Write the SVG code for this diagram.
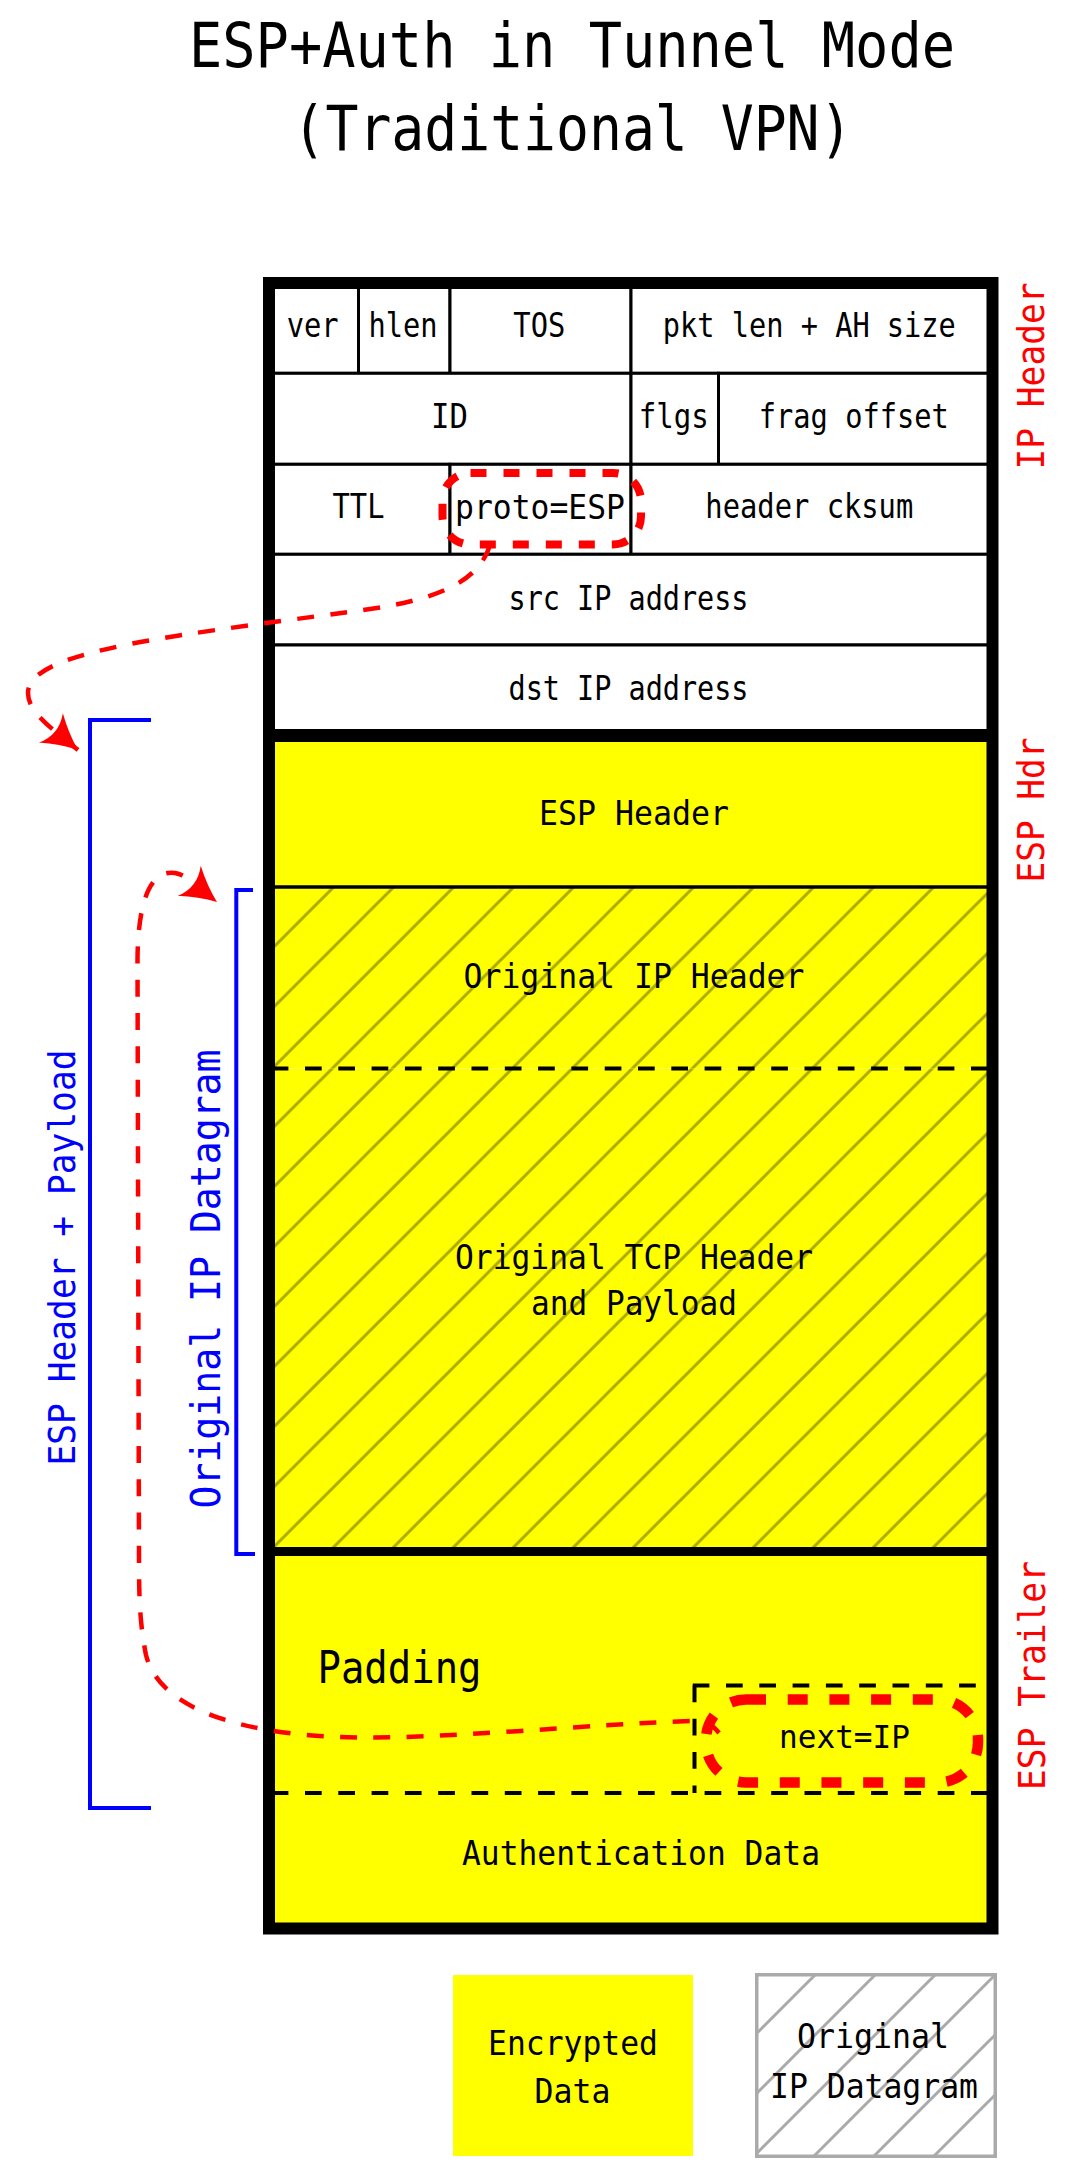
<svg xmlns="http://www.w3.org/2000/svg" width="1082" height="2177" viewBox="0 0 1082 2177">
<style>
text { font-family: "DejaVu Sans Mono", "Liberation Mono", monospace; fill: #000; }
.title { font-size: 62px; text-anchor: middle; }
.t { font-size: 33px; text-anchor: middle; }
.cell { fill: #fff; stroke: #000; stroke-width: 3; }
.yel { fill: #ff0; }
.sep { stroke: #000; fill: none; }
.dash { fill: none; stroke: #000; stroke-width: 4; stroke-dasharray: 16.7 16.6; }
.rlbl { fill: #f00; font-size: 38px; text-anchor: middle; }
.blbl { fill: #00f; text-anchor: middle; }
.bracket { fill: none; stroke: #00f; stroke-width: 4; }
.conn { fill: none; stroke: #f00; stroke-width: 4.5; stroke-dasharray: 17 16.3; }
.hl { fill: none; stroke: #f00; }
</style>
<defs>
<pattern id="hatchA" patternUnits="userSpaceOnUse" x="20.7" y="0" width="60" height="60">
<path d="M0,60 L60,0 M-10,10 L10,-10 M50,70 L70,50" stroke="#aaaa00" stroke-width="3"/>
</pattern>
<pattern id="hatchB" patternUnits="userSpaceOnUse" x="30" y="0" width="60" height="60">
<path d="M0,60 L60,0 M-10,10 L10,-10 M50,70 L70,50" stroke="#aaaaaa" stroke-width="3"/>
</pattern>
<marker id="arrow" viewBox="-37 -21 40 42" refX="0" refY="0" markerWidth="40" markerHeight="42" markerUnits="userSpaceOnUse" orient="auto">
<path d="M0,0 Q-18,-7 -35,-19 Q-24,0 -35,19 Q-18,7 0,0 Z" fill="#f00"/>
</marker>
</defs>

<rect width="1082" height="2177" fill="#fff"/>

<g id="title">
<text class="title" x="572" y="67" textLength="766" lengthAdjust="spacingAndGlyphs">ESP+Auth in Tunnel Mode</text>
<text class="title" x="572.5" y="150" textLength="560" lengthAdjust="spacingAndGlyphs">(Traditional VPN)</text>
</g>

<!-- IP header fields -->
<g id="f-ver"><rect class="cell" x="269" y="283" width="89.5" height="90.3"/><text class="t" x="312.7" y="337" textLength="52" lengthAdjust="spacingAndGlyphs">ver</text></g>
<g id="f-hlen"><rect class="cell" x="358.5" y="283" width="91.5" height="90.3"/><text class="t" x="403" y="337" textLength="69" lengthAdjust="spacingAndGlyphs">hlen</text></g>
<g id="f-tos"><rect class="cell" x="450" y="283" width="181" height="90.3"/><text class="t" x="539.3" y="337" textLength="52" lengthAdjust="spacingAndGlyphs">TOS</text></g>
<g id="f-pktlen"><rect class="cell" x="631" y="283" width="361.5" height="90.3"/><text class="t" x="809.3" y="337" textLength="293" lengthAdjust="spacingAndGlyphs">pkt len + AH size</text></g>
<g id="f-id"><rect class="cell" x="269" y="373.3" width="362" height="91"/><text class="t" x="449.6" y="428" textLength="37" lengthAdjust="spacingAndGlyphs">ID</text></g>
<g id="f-flgs"><rect class="cell" x="631" y="373.3" width="87.5" height="91"/><text class="t" x="673.8" y="428" textLength="70" lengthAdjust="spacingAndGlyphs">flgs</text></g>
<g id="f-frag"><rect class="cell" x="718.5" y="373.3" width="274" height="91"/><text class="t" x="853.8" y="428" textLength="190" lengthAdjust="spacingAndGlyphs">frag offset</text></g>
<g id="f-ttl"><rect class="cell" x="269" y="464.3" width="181" height="90"/><text class="t" x="358.5" y="518" textLength="52" lengthAdjust="spacingAndGlyphs">TTL</text></g>
<g id="f-proto"><rect class="cell" x="450" y="464.3" width="181" height="90"/><text class="t" x="540" y="519" textLength="170" lengthAdjust="spacingAndGlyphs">proto=ESP</text></g>
<g id="f-cksum"><rect class="cell" x="631" y="464.3" width="361.5" height="90"/><text class="t" x="809.3" y="518" textLength="208" lengthAdjust="spacingAndGlyphs">header cksum</text></g>
<g id="f-src"><rect class="cell" x="269" y="554.3" width="723.5" height="90.7"/><text class="t" x="628.5" y="610" textLength="240" lengthAdjust="spacingAndGlyphs">src IP address</text></g>
<g id="f-dst"><rect class="cell" x="269" y="645" width="723.5" height="90.5"/><text class="t" x="628.5" y="700" textLength="240" lengthAdjust="spacingAndGlyphs">dst IP address</text></g>

<!-- ESP sections -->
<g id="esp-header"><rect class="yel" x="269" y="735.5" width="723.5" height="152"/><text class="t" x="634" y="825" textLength="190" lengthAdjust="spacingAndGlyphs">ESP Header</text></g>
<g id="orig-ip-header"><rect class="yel" x="269" y="887" width="723.5" height="181.5"/><rect fill="url(#hatchA)" x="275" y="887" width="712" height="181.5"/><text class="t" x="634" y="988" textLength="341" lengthAdjust="spacingAndGlyphs">Original IP Header</text></g>
<g id="orig-tcp"><rect class="yel" x="269" y="1068.5" width="723.5" height="483"/><rect fill="url(#hatchA)" x="275" y="1068.5" width="712" height="483"/><text class="t" x="634" y="1269" textLength="358" lengthAdjust="spacingAndGlyphs">Original TCP Header</text><text class="t" x="634" y="1315" textLength="206" lengthAdjust="spacingAndGlyphs">and Payload</text></g>
<g id="padding"><rect class="yel" x="269" y="1551.5" width="723.5" height="241.5"/><text x="399.5" y="1683" font-size="45" text-anchor="middle" textLength="164" lengthAdjust="spacingAndGlyphs">Padding</text></g>
<g id="auth-data"><rect class="yel" x="269" y="1793" width="723.5" height="135.5"/><text class="t" x="641" y="1865" textLength="358" lengthAdjust="spacingAndGlyphs">Authentication Data</text></g>

<!-- separators -->
<g id="separators">
<line class="sep" x1="269" y1="735.5" x2="992.5" y2="735.5" stroke-width="13"/>
<line class="sep" x1="269" y1="887" x2="992.5" y2="887" stroke-width="3.5"/>
<line class="dash" x1="271.7" y1="1068.5" x2="987" y2="1068.5"/>
<line class="sep" x1="269" y1="1551.5" x2="992.5" y2="1551.5" stroke-width="9"/>
<line class="dash" x1="271.7" y1="1793" x2="987" y2="1793"/>
</g>

<g id="next-ip">
<path class="dash" d="M692.7,1685.5 H987 M694.5,1685.5 V1793"/>
<rect class="hl" x="706" y="1699.5" width="272" height="83" rx="40" stroke-width="10.5" stroke-dasharray="20 21.7"/>
<text x="844.5" y="1748" font-size="32" text-anchor="middle" textLength="131" lengthAdjust="spacingAndGlyphs">next=IP</text>
</g>

<g id="proto-highlight">
<rect class="hl" x="442.5" y="473" width="198.5" height="71.5" rx="28" stroke-width="8" stroke-dasharray="16 17"/>
</g>

<!-- outer frame -->
<rect id="frame" x="269" y="283" width="723.5" height="1645.5" fill="none" stroke="#000" stroke-width="12"/>

<!-- side labels -->
<g id="lbl-ip-header"><text class="rlbl" transform="translate(1044,376) rotate(-90)" textLength="187" lengthAdjust="spacingAndGlyphs">IP Header</text></g>
<g id="lbl-esp-hdr"><text class="rlbl" transform="translate(1044,810) rotate(-90)" textLength="145" lengthAdjust="spacingAndGlyphs">ESP Hdr</text></g>
<g id="lbl-esp-trailer"><text class="rlbl" transform="translate(1045,1675.5) rotate(-90)" textLength="229" lengthAdjust="spacingAndGlyphs">ESP Trailer</text></g>

<g id="bracket-esp-payload">
<path class="bracket" d="M151,720 H90 V1808 H151"/>
<text class="blbl" font-size="38" transform="translate(75,1257.5) rotate(-90)" textLength="416" lengthAdjust="spacingAndGlyphs">ESP Header + Payload</text>
</g>
<g id="bracket-orig-datagram">
<path class="bracket" d="M253,890 H236.3 V1554 H255"/>
<text class="blbl" font-size="40" transform="translate(220,1279) rotate(-90)" textLength="459" lengthAdjust="spacingAndGlyphs">Original IP Datagram</text>
</g>

<!-- connectors -->
<g id="connectors">
<path class="conn" marker-end="url(#arrow)" d="M490,545 C478,585 430,600 370,609 C300,619 190,632 130,644 C70,656 28,670 28,693 C28,712 51,728 78,750"/>
<path class="conn" marker-end="url(#arrow)" d="M719,1733 C712,1724 705,1721 694,1721 C600,1723 430,1741 340,1737 C250,1734 160,1712 146,1655 C140,1625 139,1600 139,1560 L137.5,960 C138,890 155,870 175,873 C190,876 200,889 217,902"/>
</g>

<!-- legend -->
<g id="legend-encrypted">
<rect class="yel" x="453" y="1975" width="240" height="181"/>
<text class="t" font-size="34" x="573" y="2055" textLength="170" lengthAdjust="spacingAndGlyphs">Encrypted</text>
<text class="t" font-size="34" x="572.5" y="2103" textLength="76" lengthAdjust="spacingAndGlyphs">Data</text>
</g>
<g id="legend-original">
<rect x="756.75" y="1974.75" width="238.5" height="181.5" fill="url(#hatchB)" stroke="#aaaaaa" stroke-width="3.5"/>
<text class="t" font-size="34" x="873" y="2048" textLength="152" lengthAdjust="spacingAndGlyphs">Original</text>
<text class="t" font-size="34" x="874" y="2098" textLength="208" lengthAdjust="spacingAndGlyphs">IP Datagram</text>
</g>
</svg>
